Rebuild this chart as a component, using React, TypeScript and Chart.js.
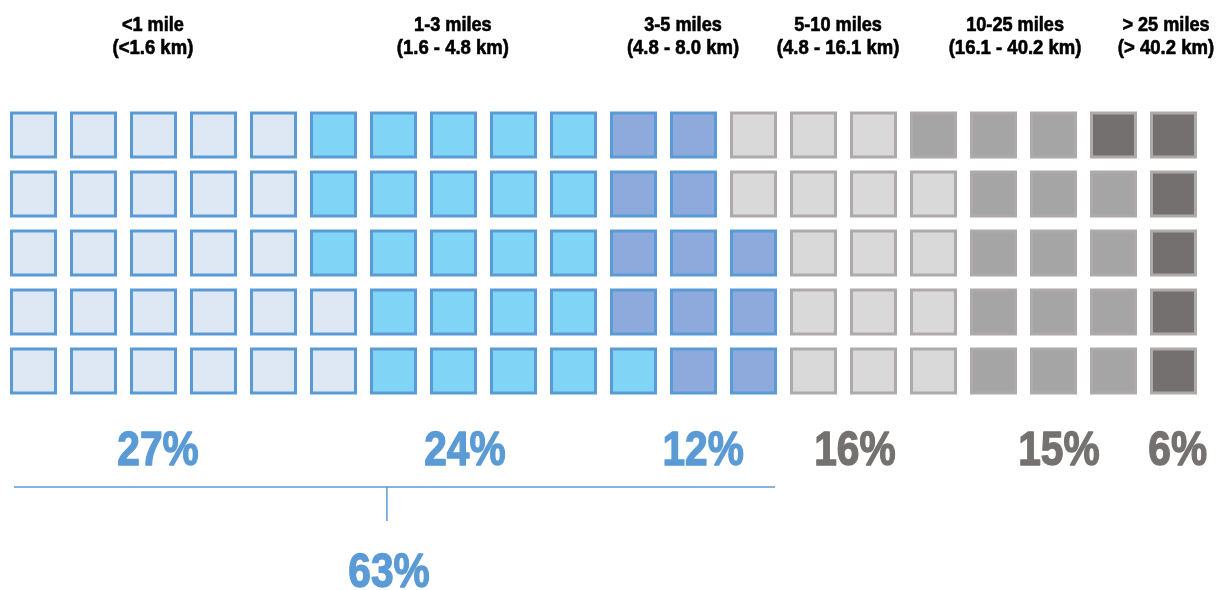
import React, { useEffect, useRef } from "react";
import { Chart, registerables } from "chart.js";

Chart.register(...registerables);

// ---- data ----
const categories = ["<1 mile", "1-3 miles", "3-5 miles", "5-10 miles", "10-25 miles", "> 25 miles"];
const kmLabels = ["(<1.6 km)", "(1.6 - 4.8 km)", "(4.8 - 8.0 km)", "(4.8 - 16.1 km)", "(16.1 - 40.2 km)", "(> 40.2 km)"];
const shares = [27, 24, 12, 16, 15, 6];
const groupedCount = 3; // first three categories are bracketed together
const ROWS = 5;

// ---- styles ----
const fills = ["#dee8f4", "#80d5f7", "#8eaadc", "#d9d9d9", "#a5a5a5", "#747070"];
const borders = ["#5b9bd5", "#5b9bd5", "#5b9bd5", "#aeaaaa", "#aeaaaa", "#aeaaaa"];
const pctColors = ["#5b9bd5", "#5b9bd5", "#5b9bd5", "#767171", "#767171", "#767171"];

// annotation anchors (in axis units)
const headerX = [2.99, 7.99, 11.825, 14.41, 17.36, 19.875];
const pctX = [3.075, 8.19, 12.16, 14.69, 18.09, 20.07];

const FONT = "'Liberation Sans', Arial, sans-serif";

function buildCells() {
  const out: { x: number; y: number }[][] = [];
  let k = 0;
  shares.forEach((n) => {
    const pts: { x: number; y: number }[] = [];
    for (let i = 0; i < n; i++, k++) {
      const col = Math.floor(k / ROWS) + 1;
      const row = ROWS - (k % ROWS);
      pts.push({ x: col, y: row });
    }
    out.push(pts);
  });
  return out;
}

function narrowText(ctx: CanvasRenderingContext2D, text: string, x: number, y: number, sx: number, weight: number) {
  ctx.save();
  ctx.translate(x, y);
  ctx.scale(sx, 1);
  ctx.fillText(text, 0, 0);
  if (weight > 0) {
    ctx.lineWidth = weight;
    ctx.lineJoin = "round";
    ctx.strokeStyle = ctx.fillStyle as string;
    ctx.strokeText(text, 0, 0);
  }
  ctx.restore();
}

const annotationPlugin = {
  id: "waffleText",
  afterDatasetsDraw(chart: any) {
    const { ctx, scales } = chart;
    const xs = scales.x;
    const ys = scales.y;
    ctx.save();
    ctx.textAlign = "center";
    ctx.textBaseline = "alphabetic";
    // headers
    ctx.fillStyle = "#000000";
    ctx.font = `bold 19.5px ${FONT}`;
    categories.forEach((c, i) => {
      const x = xs.getPixelForValue(headerX[i]);
      narrowText(ctx, c, x, ys.getPixelForValue(-0.771), 0.93, 0.6);
      narrowText(ctx, kmLabels[i], x, ys.getPixelForValue(-0.381), 0.95, 0.6);
    });
    // percentages
    ctx.font = `bold 49px ${FONT}`;
    shares.forEach((s, i) => {
      ctx.fillStyle = pctColors[i];
      narrowText(ctx, `${s}%`, xs.getPixelForValue(pctX[i]), ys.getPixelForValue(6.593), 0.83, 1.4);
    });
    // bracket
    const yH = ys.getPixelForValue(6.966);
    const yT = ys.getPixelForValue(7.542);
    const xL = xs.getPixelForValue(0.675);
    const xR = xs.getPixelForValue(13.36);
    const xM = xs.getPixelForValue(6.89);
    ctx.strokeStyle = "#5b9bd5";
    ctx.lineWidth = 1.5;
    ctx.beginPath();
    ctx.moveTo(xL, yH);
    ctx.lineTo(xR, yH);
    ctx.moveTo(xM, yH);
    ctx.lineTo(xM, yT);
    ctx.stroke();
    const total = shares.slice(0, groupedCount).reduce((a, b) => a + b, 0);
    ctx.fillStyle = "#5b9bd5";
    narrowText(ctx, `${total}%`, xs.getPixelForValue(6.925), ys.getPixelForValue(8.661), 0.83, 1.4);
    ctx.restore();
  },
};

export default function App() {
  const ref = useRef<HTMLCanvasElement | null>(null);
  useEffect(() => {
    if (!ref.current) return;
    const cells = buildCells();
    const chart = new Chart(ref.current, {
      type: "scatter",
      data: {
        datasets: categories.map((c, i) => ({
          label: c,
          data: cells[i],
          pointStyle: "rect",
          pointRadius: 31.1,
          pointHoverRadius: 31.1,
          pointBackgroundColor: fills[i],
          pointBorderColor: borders[i],
          pointBorderWidth: 3,
          pointHoverBorderWidth: 3,
        })),
      },
      options: {
        animation: false,
        responsive: true,
        maintainAspectRatio: false,
        layout: { padding: 0, autoPadding: false },
        events: [],
        plugins: {
          legend: { display: false },
          tooltip: { enabled: false },
          title: { display: false },
        },
        scales: {
          x: { type: "linear", min: 0.4417, max: 0.4417 + 1223 / 60, display: false },
          y: { type: "linear", reverse: true, min: -1.288, max: -1.288 + 10, display: false },
        },
      },
      plugins: [annotationPlugin],
    });
    return () => chart.destroy();
  }, []);
  return (
    <div style={{ position: "fixed", left: 0, top: 0, width: 1223, height: 590, background: "#ffffff" }}>
      <canvas ref={ref} />
    </div>
  );
}
